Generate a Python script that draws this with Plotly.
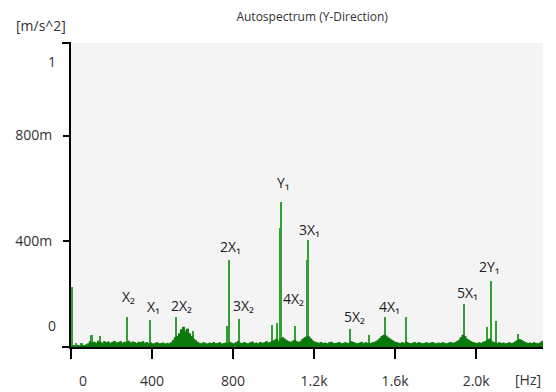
import plotly.graph_objects as go

# ---------------- data ----------------
# broadband floor of the spectrum, one value every 10 Hz from 0 Hz (values in m/s^2)
floor_level = [
    0.004, 0.005, 0.003, 0.006, 0.004, 0.007, 0.005, 0.008,
    0.012, 0.020, 0.015, 0.018, 0.013, 0.022, 0.017, 0.014, 0.020, 0.016,
    0.019, 0.013, 0.018, 0.021, 0.015, 0.017, 0.020, 0.014, 0.018, 0.016,
    0.022, 0.015, 0.019, 0.017, 0.013, 0.018, 0.016, 0.020, 0.014, 0.017,
    0.012, 0.015, 0.011, 0.014, 0.016, 0.012, 0.013, 0.015, 0.011, 0.014,
    0.012, 0.016,
    0.025, 0.035, 0.040, 0.050, 0.065, 0.075, 0.060, 0.068, 0.050, 0.040,
    0.030, 0.025, 0.018,
    0.014, 0.012, 0.016, 0.013, 0.011, 0.015, 0.013, 0.017, 0.012, 0.014,
    0.016, 0.011, 0.013, 0.015, 0.012, 0.018, 0.014, 0.012, 0.016, 0.020,
    0.015, 0.013, 0.017, 0.014, 0.012, 0.016, 0.019, 0.013, 0.015, 0.012,
    0.017, 0.014, 0.016, 0.020, 0.015, 0.018, 0.022,
    0.025, 0.030, 0.022, 0.028, 0.035, 0.030, 0.024, 0.020, 0.018, 0.022,
    0.025, 0.020, 0.018, 0.022, 0.030, 0.035, 0.040, 0.038, 0.030, 0.022,
    0.018,
    0.016, 0.014, 0.017, 0.013, 0.015, 0.012, 0.016, 0.018, 0.014, 0.013,
    0.015, 0.017, 0.012, 0.014, 0.016, 0.013, 0.015, 0.020, 0.017, 0.014,
    0.012, 0.015, 0.018, 0.013, 0.016, 0.014, 0.012, 0.015, 0.017,
    0.020, 0.025, 0.032, 0.040, 0.045, 0.042, 0.035, 0.030, 0.025, 0.020,
    0.017,
    0.015, 0.013, 0.016, 0.014, 0.018, 0.015, 0.012, 0.014, 0.017, 0.013,
    0.016, 0.015, 0.012, 0.014, 0.016, 0.013, 0.015, 0.017, 0.014, 0.012,
    0.015, 0.013, 0.016, 0.014, 0.012, 0.015, 0.017, 0.014, 0.016, 0.020,
    0.025, 0.035, 0.045, 0.040, 0.030, 0.025, 0.020, 0.017,
    0.015, 0.013, 0.016, 0.014, 0.018, 0.020, 0.025, 0.030, 0.022, 0.018,
    0.015, 0.014, 0.016, 0.013, 0.015, 0.012, 0.014, 0.016, 0.013, 0.015,
    0.020, 0.025, 0.028, 0.025, 0.020, 0.016, 0.014, 0.015, 0.013, 0.016,
    0.014, 0.012, 0.015, 0.020, 0.025,
]
floor_step_hz = 10
floor_hz = [i * floor_step_hz for i in range(len(floor_level))]

# discrete spectral lines (Hz, m/s^2)
spike_hz = [5, 25, 53, 103, 143, 277, 390, 518, 602, 770, 780, 830, 993, 1017,
            1032, 1037, 1106, 1166, 1170, 1378, 1473, 1551, 1654, 1941, 2055,
            2074, 2099, 2207]
spike_val = [0.227, 0.015, 0.015, 0.045, 0.040, 0.114, 0.102, 0.114, 0.060,
             0.080, 0.330, 0.106, 0.085, 0.090, 0.450, 0.550, 0.080, 0.330,
             0.405, 0.068, 0.045, 0.114, 0.114, 0.163, 0.076, 0.250, 0.098,
             0.050]

# labelled peaks
label_text = ["X\u2082", "X\u2081", "2X\u2082", "2X\u2081", "3X\u2082", "Y\u2081",
              "3X\u2081", "4X\u2082", "5X\u2082", "4X\u2081", "5X\u2081", "2Y\u2081"]
label_hz = [277, 390, 518, 780, 830, 1037, 1170, 1106, 1378, 1551, 1941, 2074]

x_tick_vals = [0, 400, 800, 1200, 1600, 2000]
x_tick_text = ["\u2007\u2007\u20070", "400", "800", "1.2k", "1.6k", "2.0k"]
y_tick_vals = [0.4, 0.8]
y_tick_text = ["400m", "800m"]
y_end_vals = [0, 1]
y_end_text = ["0", "1"]

# ---------------- styling ----------------
label_gap_px = [20, 14, 11, 13, 13, 19, 10, 27, 13, 10, 11, 14]
label_dx_px = [1, 3, 6, 1, 4, 2, 1, -2, 4, 4, 3, -2]
FONT = "Open Sans, DejaVu Sans, sans-serif"
TXT = "#333333"

fig = go.Figure()

fig.add_trace(go.Bar(
    x=spike_hz, y=spike_val, width=9,
    marker=dict(color="#33a033", line=dict(width=0)),
    showlegend=False, hoverinfo="x+y",
))

fig.add_trace(go.Scatter(
    x=floor_hz, y=floor_level, mode="lines",
    line=dict(color="#0b780b", width=1, shape="hv"),
    fill="tozeroy", fillcolor="#0b780b",
    showlegend=False, hoverinfo="x+y",
))

# invisible anchor for the secondary label axis
fig.add_trace(go.Scatter(
    x=[0], y=[0], yaxis="y2", mode="markers",
    marker=dict(opacity=0), showlegend=False, hoverinfo="skip",
))

peak_lookup = dict(zip(spike_hz, spike_val))
for txt, hz, gap, dx in zip(label_text, label_hz, label_gap_px, label_dx_px):
    fig.add_annotation(
        x=hz, y=peak_lookup[hz], text=txt, showarrow=False,
        xanchor="center", yanchor="middle", yshift=gap, xshift=dx,
        font=dict(family=FONT, size=14, color="#222222"),
    )

fig.add_annotation(x=-0.0636, y=1.056, xref="paper", yref="paper",
                   text="[m/s^2]", showarrow=False, xanchor="center",
                   yanchor="middle", font=dict(family=FONT, size=14, color=TXT))
fig.add_annotation(x=1.0, y=-0.108, xref="paper", yref="paper",
                   text="[Hz]", showarrow=False, xanchor="right",
                   yanchor="middle", font=dict(family=FONT, size=14, color=TXT))

# axis end brackets
fig.add_shape(type="line", xref="paper", yref="paper", x0=-0.019, x1=0,
              y0=1, y1=1, line=dict(color="black", width=2))
fig.add_shape(type="line", xref="paper", yref="paper", x0=-0.019, x1=0,
              y0=0, y1=0, line=dict(color="black", width=2))

y_range = [0, 1.15]

# the page body adds an 8px offset; the figure is sized to fill the rest of the window
fig.update_layout(
    template="none",
    width=548, height=384,
    margin=dict(l=63, r=13, t=35, b=45, autoexpand=False),
    paper_bgcolor="white", plot_bgcolor="#f4f4f4",
    title=dict(text="Autospectrum (Y-Direction)", x=0.555, xanchor="center",
               y=0.976, yanchor="middle",
               font=dict(family=FONT, size=12, color=TXT)),
    bargap=0,
    xaxis=dict(range=[0, 2330], showgrid=False, zeroline=False, automargin=False,
               showline=True, linecolor="black", linewidth=2,
               ticks="outside", ticklen=10, tickwidth=1.5, tickcolor="black",
               tickvals=x_tick_vals, ticktext=x_tick_text,
               ticklabelstandoff=10,
               tickfont=dict(family=FONT, size=14, color=TXT)),
    yaxis=dict(range=y_range, showgrid=False, zeroline=False, automargin=False,
               showline=True, linecolor="black", linewidth=2,
               ticks="outside", ticklen=6, tickwidth=1.5, tickcolor="black",
               tickvals=y_tick_vals, ticktext=y_tick_text,
               ticklabelstandoff=8,
               tickfont=dict(family=FONT, size=14, color=TXT)),
    yaxis2=dict(range=y_range, overlaying="y", side="left", anchor="x",
                automargin=False,
                showgrid=False, zeroline=False, showline=False, ticks="",
                tickvals=y_end_vals, ticktext=y_end_text,
                ticklabelshift=-21, ticklabelstandoff=14,
                tickfont=dict(family=FONT, size=14, color=TXT)),
)

fig.write_html("out.html")
